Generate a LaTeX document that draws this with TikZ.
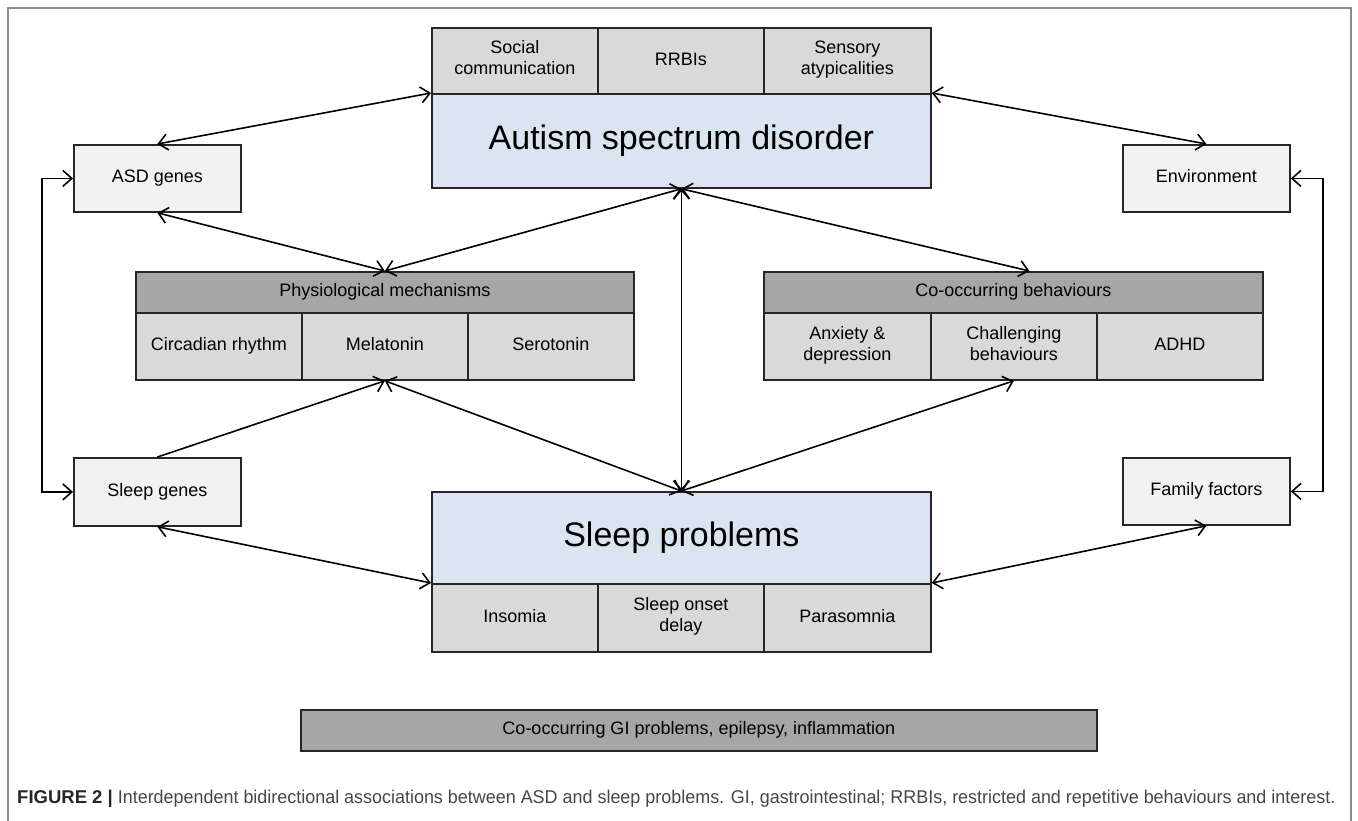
\documentclass[tikz,border=0pt]{standalone}
\usepackage{fontspec}
\setmainfont{Liberation Sans}
\newfontfamily\capfont[FakeStretch=0.97]{Liberation Sans}
\usetikzlibrary{arrows.meta}
\usetikzlibrary{calc}

\definecolor{asdBlue}{RGB}{219,229,241}
\definecolor{cellGray}{RGB}{217,217,217}
\definecolor{headGray}{RGB}{166,166,166}
\definecolor{factGray}{RGB}{242,242,242}
\definecolor{frameGray}{RGB}{140,140,140}
\definecolor{capText}{RGB}{70,70,70}

\begin{document}
\begin{tikzpicture}[x=1pt,y=-1pt,
	box/.style={draw=black!85,line width=1.8pt,inner sep=0pt,anchor=north west,align=center,font=\fontsize{18}{21}\selectfont,execute at begin node=\strut,execute at end node=\strut},
	link/.style={{Straight Barb[length=9pt,width=16pt]}-{Straight Barb[length=9pt,width=16pt]},line width=1.6pt},
	oneway/.style={-{Straight Barb[length=9pt,width=16pt]},line width=1.6pt}]

\useasboundingbox (0,0) rectangle (1358,821);
\draw[frameGray,line width=1.2pt] (8,830) -- (8,8) -- (1351,8) -- (1351,830);

\newcommand\drawBox[7]{\node[box,fill=#6,minimum width=#4,minimum height=#5] (#1) at (#2,#3) {#7};}

% autism spectrum disorder
\drawBox{social}{431}{27}{166}{66}{cellGray}{Social\\communication}
\drawBox{rrbi}{597}{27}{166}{66}{cellGray}{RRBIs}
\drawBox{sensory}{763}{27}{167}{66}{cellGray}{Sensory\\atypicalities}
\drawBox{asd}{431}{93}{499}{94}{asdBlue}{\fontsize{34}{40}\selectfont Autism spectrum disorder}

% physiological mechanisms
\drawBox{physio}{135}{271}{498}{41}{headGray}{Physiological mechanisms}
\drawBox{circadian}{135}{312}{166}{67}{cellGray}{Circadian rhythm}
\drawBox{melatonin}{301}{312}{166}{67}{cellGray}{Melatonin}
\drawBox{serotonin}{467}{312}{166}{67}{cellGray}{Serotonin}

% co-occurring behaviours
\drawBox{coocc}{763}{271}{499}{41}{headGray}{Co-occurring behaviours}
\drawBox{anxiety}{763}{312}{167}{67}{cellGray}{Anxiety \&\\depression}
\drawBox{challenging}{930}{312}{166}{67}{cellGray}{Challenging\\behaviours}
\drawBox{adhd}{1096}{312}{166}{67}{cellGray}{ADHD}

% sleep problems
\drawBox{sleep}{431}{491}{499}{92}{asdBlue}{\fontsize{34}{40}\selectfont Sleep problems}
\drawBox{insomia}{431}{583}{166}{68}{cellGray}{Insomia}
\drawBox{onset}{597}{583}{166}{68}{cellGray}{Sleep onset\\delay}
\drawBox{parasomnia}{763}{583}{167}{68}{cellGray}{Parasomnia}

% genes and surroundings
\drawBox{asdgenes}{73}{144}{167}{67}{factGray}{ASD genes}
\drawBox{environment}{1122}{144}{167}{67}{factGray}{Environment}
\drawBox{sleepgenes}{73}{457}{167}{68}{factGray}{Sleep genes}
\drawBox{family}{1122}{457}{167}{67}{factGray}{Family factors}

\drawBox{gi}{300}{709}{796}{41}{headGray}{Co-occurring GI problems, epilepsy, inflammation}

% associations
\draw[link] (asdgenes.north) -- (asd.north west);
\draw[link] (asdgenes.south) -- (physio.north);
\draw[link] (physio.north) -- (asd.south);
\draw[link] (asd.south) -- ($(coocc.north)+(16,0)$);
\draw[link] (asd.south) -- (sleep.north);
\draw[link] (environment.north) -- (asd.north east);
\draw[oneway] (sleepgenes.north) -- (melatonin.south);
\draw[link] (melatonin.south) -- (sleep.north);
\draw[link] (challenging.south) -- (sleep.north);
\draw[link] (sleepgenes.south) -- (insomia.north west);
\draw[link] (family.south) -- (parasomnia.north east);
\draw[link] (asdgenes.west) -- ++(-31,0) |- (sleepgenes.west);
\draw[link] (environment.east) -- ++(32,0) |- (family.east);

\node[anchor=west,inner sep=0pt,text=capText,font=\capfont\fontsize{18.5}{22}\selectfont] (caption) at (17,799) {{\setmainfont{Liberation Sans}\bfseries\color{black!85}FIGURE 2 |} Interdependent bidirectional associations between ASD and sleep problems. GI, gastrointestinal; RRBIs, restricted and repetitive behaviours and interest.};
\end{tikzpicture}
\end{document}
